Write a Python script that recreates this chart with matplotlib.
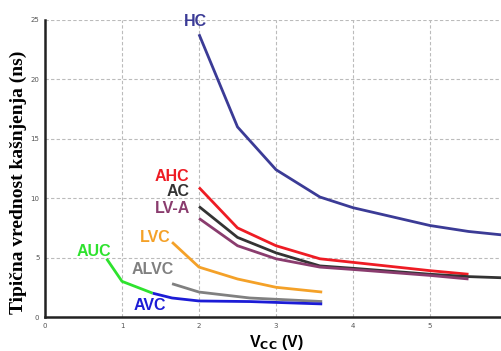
import matplotlib.pyplot as plt

# Tipicno kasnjenje po familijama logike u zavisnosti od Vcc
hc_x = [2.0, 2.5, 3.0, 3.57, 4.0, 5.0, 5.5, 5.95]
hc_y = [23.8, 16.0, 12.4, 10.1, 9.2, 7.7, 7.2, 6.9]

ahc_x = [2.0, 2.5, 3.0, 3.57, 4.0, 5.0, 5.5]
ahc_y = [10.9, 7.5, 6.0, 4.9, 4.6, 3.9, 3.6]

ac_x = [2.0, 2.5, 3.0, 3.57, 4.0, 5.0, 5.5, 5.95]
ac_y = [9.3, 6.7, 5.4, 4.3, 4.1, 3.6, 3.4, 3.3]

lva_x = [2.0, 2.5, 3.0, 3.57, 4.0, 5.0, 5.5]
lva_y = [8.3, 6.0, 4.9, 4.2, 4.0, 3.5, 3.2]

lvc_x = [1.65, 2.0, 2.5, 3.0, 3.6]
lvc_y = [6.3, 4.2, 3.2, 2.5, 2.1]

alvc_x = [1.65, 2.0, 2.66, 3.6]
alvc_y = [2.8, 2.1, 1.6, 1.3]

auc_x = [0.8, 1.0, 1.4]
auc_y = [4.9, 3.0, 2.0]

avc_x = [1.4, 1.65, 2.0, 2.66, 3.6]
avc_y = [2.0, 1.6, 1.35, 1.3, 1.1]

series = [
    ('HC', hc_x, hc_y, '#3b3b96', (1.96, 24.85)),
    ('AHC', ahc_x, ahc_y, '#ee1c24', (1.65, 11.85)),
    ('AC', ac_x, ac_y, '#333333', (1.73, 10.55)),
    ('LV-A', lva_x, lva_y, '#8a3c6e', (1.65, 9.1)),
    ('LVC', lvc_x, lvc_y, '#f4a128', (1.43, 6.65)),
    ('AUC', auc_x, auc_y, '#2ee22e', (0.64, 5.5)),
    ('ALVC', alvc_x, alvc_y, '#808080', (1.40, 4.0)),
    ('AVC', avc_x, avc_y, '#1c1cd6', (1.36, 1.0)),
]

fig = plt.figure(figsize=(5.02, 3.51), dpi=100)
ax = fig.add_axes([45 / 502, 34 / 351, 457 / 502, 297 / 351])

for name, xs, ys, col, (lx, ly) in series:
    ax.plot(xs, ys, color=col, linewidth=2.0, solid_capstyle='butt')
    ax.text(lx, ly, name, color=col, fontsize=11.5, fontweight='bold',
            family='Liberation Sans', ha='center', va='center')

ax.set_xlim(0, 5.935)
ax.set_ylim(0, 25)
ax.set_xticks([0, 1, 2, 3, 4, 5])
ax.set_yticks([0, 5, 10, 15, 20, 25])
ax.tick_params(length=0, labelsize=5, labelcolor='#555555', pad=4)
ax.grid(True, color='#bbbbbb', linestyle=(0, (3, 2)), linewidth=0.8)
ax.set_axisbelow(True)

for side in ['top', 'right']:
    ax.spines[side].set_visible(False)
for side in ['left', 'bottom']:
    ax.spines[side].set_linewidth(1.8)
    ax.spines[side].set_color('#222222')

fig.text(18 / 502, 1 - 182 / 351, 'Tipična vrednost kašnjenja (ns)',
         rotation=90, ha='center', va='center', fontsize=14,
         fontweight='bold', family='Liberation Serif')
fig.text(276 / 502, 1 - 342 / 351, r'V$_{\mathbf{CC}}$ (V)',
         ha='center', va='center', fontsize=11.5, fontweight='bold',
         family='Liberation Sans')

plt.savefig('out.png', dpi=100)
